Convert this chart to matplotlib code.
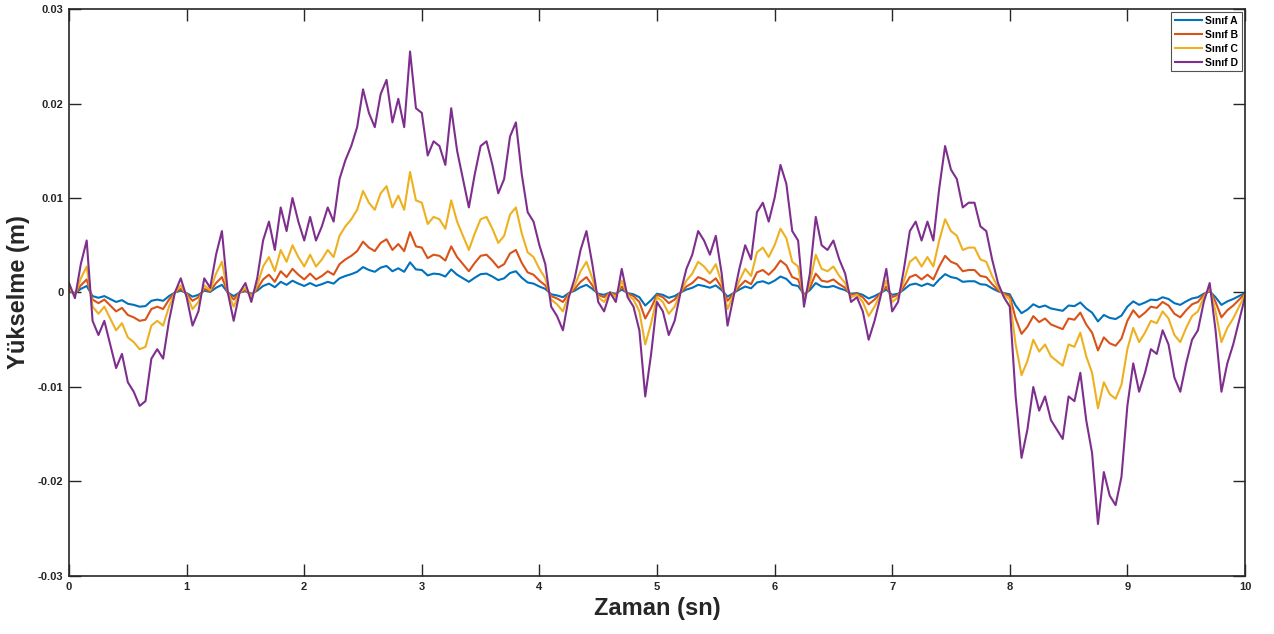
import numpy as np
import matplotlib.pyplot as plt

plt.rcParams['font.family'] = ['Liberation Sans', 'DejaVu Sans']
plt.rcParams['font.weight'] = 'bold'

# zaman ekseni: 0 - 10 sn, 0.05 sn aralik
zaman = np.linspace(0, 10, 201)

# yol profilleri (mm)
sinif_d = [
    1.0, -0.6, 3.0, 5.5, -3.0, -4.5, -3.0, -5.5, -8.0, -6.5,
    -9.5, -10.5, -12.0, -11.5, -7.0, -6.0, -7.0, -3.0, 0.0, 1.5,
    -0.5, -3.5, -2.0, 1.5, 0.5, 4.0, 6.5, 0.0, -3.0, 0.0,
    1.0, -1.0, 1.5, 5.5, 7.5, 4.5, 9.0, 6.5, 10.0, 7.5,
    5.5, 8.0, 5.5, 7.0, 9.0, 7.5, 12.0, 14.0, 15.5, 17.5,
    21.5, 19.0, 17.5, 21.0, 22.5, 18.0, 20.5, 17.5, 25.5, 19.5,
    19.0, 14.5, 16.0, 15.5, 13.5, 19.5, 15.0, 12.0, 9.0, 12.5,
    15.5, 16.0, 13.5, 10.5, 12.0, 16.5, 18.0, 12.5, 8.5, 7.5,
    5.0, 3.0, -1.5, -2.5, -4.0, -0.5, 1.5, 4.5, 6.5, 3.0,
    -1.0, -2.0, 0.0, -1.0, 2.5, -0.5, -1.5, -4.0, -11.0, -6.5,
    -1.0, -2.0, -4.5, -3.0, 0.0, 2.5, 4.0, 6.5, 5.5, 4.0,
    6.0, 2.0, -3.5, -0.5, 2.5, 5.0, 3.5, 8.5, 9.5, 7.5,
    10.0, 13.5, 11.5, 6.5, 5.5, -1.5, 2.0, 8.0, 5.0, 4.5,
    5.5, 3.5, 2.0, -1.0, -0.5, -2.0, -5.0, -3.0, -0.5, 2.5,
    -2.0, -1.0, 2.5, 6.5, 7.5, 5.5, 7.5, 5.5, 11.0, 15.5,
    13.0, 12.0, 9.0, 9.5, 9.5, 7.0, 6.5, 3.5, 1.0, -0.5,
    -1.5, -11.0, -17.5, -14.5, -10.0, -12.5, -11.0, -13.5, -14.5, -15.5,
    -11.0, -11.5, -8.5, -13.5, -17.0, -24.5, -19.0, -21.5, -22.5, -19.5,
    -12.0, -7.5, -10.5, -8.5, -6.0, -6.5, -4.0, -5.5, -9.0, -10.5,
    -7.5, -5.0, -4.0, -1.0, 1.0, -4.0, -10.5, -7.5, -5.5, -3.0,
    -0.5]

sinif_c = [
    0.5, -0.3, 1.5, 2.75, -1.5, -2.25, -1.5, -2.75, -4.0, -3.25,
    -4.75, -5.25, -6.0, -5.75, -3.5, -3.0, -3.5, -1.5, 0.0, 0.75,
    -0.25, -1.75, -1.0, 0.75, 0.25, 2.0, 3.25, 0.0, -1.5, 0.0,
    0.5, -0.5, 0.75, 2.75, 3.75, 2.25, 4.5, 3.25, 5.0, 3.75,
    2.75, 4.0, 2.75, 3.5, 4.5, 3.75, 6.0, 7.0, 7.75, 8.75,
    10.75, 9.5, 8.75, 10.5, 11.25, 9.0, 10.25, 8.75, 12.75, 9.75,
    9.5, 7.25, 8.0, 7.75, 6.75, 9.75, 7.5, 6.0, 4.5, 6.25,
    7.75, 8.0, 6.75, 5.25, 6.0, 8.25, 9.0, 6.25, 4.25, 3.75,
    2.5, 1.5, -0.75, -1.25, -2.0, -0.25, 0.75, 2.25, 3.25, 1.5,
    -0.5, -1.0, 0.0, -0.5, 1.25, -0.25, -0.75, -2.0, -5.5, -3.25,
    -0.5, -1.0, -2.25, -1.5, 0.0, 1.25, 2.0, 3.25, 2.75, 2.0,
    3.0, 1.0, -1.75, -0.25, 1.25, 2.5, 1.75, 4.25, 4.75, 3.75,
    5.0, 6.75, 5.75, 3.25, 2.75, -0.75, 1.0, 4.0, 2.5, 2.25,
    2.75, 1.75, 1.0, -0.5, -0.25, -1.0, -2.5, -1.5, -0.25, 1.25,
    -1.0, -0.5, 1.25, 3.25, 3.75, 2.75, 3.75, 2.75, 5.5, 7.75,
    6.5, 6.0, 4.5, 4.75, 4.75, 3.5, 3.25, 1.75, 0.5, -0.25,
    -0.75, -5.5, -8.75, -7.25, -5.0, -6.25, -5.5, -6.75, -7.25, -7.75,
    -5.5, -5.75, -4.25, -6.75, -8.5, -12.25, -9.5, -10.75, -11.25, -9.75,
    -6.0, -3.75, -5.25, -4.25, -3.0, -3.25, -2.0, -2.75, -4.5, -5.25,
    -3.75, -2.5, -2.0, -0.5, 0.5, -2.0, -5.25, -3.75, -2.75, -1.5,
    -0.25]

sinif_b = [
    0.25, -0.15, 0.75, 1.38, -0.75, -1.13, -0.75, -1.38, -2.0, -1.63,
    -2.38, -2.63, -3.0, -2.88, -1.75, -1.5, -1.75, -0.75, 0.0, 0.38,
    -0.13, -0.88, -0.5, 0.38, 0.13, 1.0, 1.63, 0.0, -0.75, 0.0,
    0.25, -0.25, 0.38, 1.38, 1.88, 1.13, 2.25, 1.63, 2.5, 1.88,
    1.38, 2.0, 1.38, 1.75, 2.25, 1.88, 3.0, 3.5, 3.88, 4.38,
    5.38, 4.75, 4.38, 5.25, 5.63, 4.5, 5.13, 4.38, 6.38, 4.88,
    4.75, 3.63, 4.0, 3.88, 3.38, 4.88, 3.75, 3.0, 2.25, 3.13,
    3.88, 4.0, 3.38, 2.63, 3.0, 4.13, 4.5, 3.13, 2.13, 1.88,
    1.25, 0.75, -0.38, -0.63, -1.0, -0.13, 0.38, 1.13, 1.63, 0.75,
    -0.25, -0.5, 0.0, -0.25, 0.63, -0.13, -0.38, -1.0, -2.75, -1.63,
    -0.25, -0.5, -1.13, -0.75, 0.0, 0.63, 1.0, 1.63, 1.38, 1.0,
    1.5, 0.5, -0.88, -0.13, 0.63, 1.25, 0.88, 2.13, 2.38, 1.88,
    2.5, 3.38, 2.88, 1.63, 1.38, -0.38, 0.5, 2.0, 1.25, 1.13,
    1.38, 0.88, 0.5, -0.25, -0.13, -0.5, -1.25, -0.75, -0.13, 0.63,
    -0.5, -0.25, 0.63, 1.63, 1.88, 1.38, 1.88, 1.38, 2.75, 3.88,
    3.25, 3.0, 2.25, 2.38, 2.38, 1.75, 1.63, 0.88, 0.25, -0.13,
    -0.38, -2.75, -4.38, -3.63, -2.5, -3.13, -2.75, -3.38, -3.63, -3.88,
    -2.75, -2.88, -2.13, -3.38, -4.25, -6.13, -4.75, -5.38, -5.63, -4.88,
    -3.0, -1.88, -2.63, -2.13, -1.5, -1.63, -1.0, -1.38, -2.25, -2.63,
    -1.88, -1.25, -1.0, -0.25, 0.25, -1.0, -2.63, -1.88, -1.38, -0.75,
    -0.13]

sinif_a = [
    0.13, -0.08, 0.38, 0.69, -0.38, -0.56, -0.38, -0.69, -1.0, -0.81,
    -1.19, -1.31, -1.5, -1.44, -0.88, -0.75, -0.88, -0.38, 0.0, 0.19,
    -0.06, -0.44, -0.25, 0.19, 0.06, 0.5, 0.81, 0.0, -0.38, 0.0,
    0.13, -0.13, 0.19, 0.69, 0.94, 0.56, 1.13, 0.81, 1.25, 0.94,
    0.69, 1.0, 0.69, 0.88, 1.13, 0.94, 1.5, 1.75, 1.94, 2.19,
    2.69, 2.38, 2.19, 2.63, 2.81, 2.25, 2.56, 2.19, 3.19, 2.44,
    2.38, 1.81, 2.0, 1.94, 1.69, 2.44, 1.88, 1.5, 1.13, 1.56,
    1.94, 2.0, 1.69, 1.31, 1.5, 2.06, 2.25, 1.56, 1.06, 0.94,
    0.63, 0.38, -0.19, -0.31, -0.5, -0.06, 0.19, 0.56, 0.81, 0.38,
    -0.13, -0.25, 0.0, -0.13, 0.31, -0.06, -0.19, -0.5, -1.38, -0.81,
    -0.13, -0.25, -0.56, -0.38, 0.0, 0.31, 0.5, 0.81, 0.69, 0.5,
    0.75, 0.25, -0.44, -0.06, 0.31, 0.63, 0.44, 1.06, 1.19, 0.94,
    1.25, 1.69, 1.44, 0.81, 0.69, -0.19, 0.25, 1.0, 0.63, 0.56,
    0.69, 0.44, 0.25, -0.13, -0.06, -0.25, -0.63, -0.38, -0.06, 0.31,
    -0.25, -0.13, 0.31, 0.81, 0.94, 0.69, 0.94, 0.69, 1.38, 1.94,
    1.63, 1.5, 1.13, 1.19, 1.19, 0.88, 0.81, 0.44, 0.13, -0.06,
    -0.19, -1.38, -2.19, -1.81, -1.25, -1.56, -1.38, -1.69, -1.81, -1.94,
    -1.38, -1.44, -1.06, -1.69, -2.13, -3.06, -2.38, -2.69, -2.81, -2.44,
    -1.5, -0.94, -1.31, -1.06, -0.75, -0.81, -0.5, -0.69, -1.13, -1.31,
    -0.94, -0.63, -0.5, -0.13, 0.13, -0.5, -1.31, -0.94, -0.69, -0.38,
    -0.06]

x_ticks = [0, 1, 2, 3, 4, 5, 6, 7, 8, 9, 10]
y_ticks = [-0.03, -0.02, -0.01, 0, 0.01, 0.02, 0.03]
y_labels = ['-0.03', '-0.02', '-0.01', '0', '0.01', '0.02', '0.03']

seriler = [('Sınıf A', sinif_a, '#0072BD'),
           ('Sınıf B', sinif_b, '#D95319'),
           ('Sınıf C', sinif_c, '#EDB120'),
           ('Sınıf D', sinif_d, '#7E2F8E')]

fig = plt.figure(figsize=(12.74, 6.34), dpi=100)
ax = fig.add_axes([0.0542, 0.0915, 0.923, 0.8943])

for ad, deger, renk in seriler:
    ax.plot(zaman, np.array(deger) / 1000.0, color=renk, lw=1.5, label=ad)

ax.set_xlim(0, 10)
ax.set_ylim(-0.03, 0.03)
ax.set_xticks(x_ticks)
ax.set_xticklabels([str(v) for v in x_ticks])
ax.set_yticks(y_ticks)
ax.set_yticklabels(y_labels)
ax.tick_params(direction='in', length=8.5, width=1.0, top=True, right=True,
               labelsize=8, colors='#262626', pad=4)
for s in ax.spines.values():
    s.set_linewidth(1.2)
    s.set_color('#262626')

ax.set_xlabel('Zaman (sn)', fontsize=17, fontweight='bold', color='#262626', labelpad=4)
ax.set_ylabel('Yükselme (m)', fontsize=17, fontweight='bold', color='#262626', labelpad=6)

leg = ax.legend(loc='upper right', fontsize=7.5, frameon=True, fancybox=False,
                edgecolor='#262626', handlelength=2.6, borderpad=0.35,
                labelspacing=0.38, handletextpad=0.3, borderaxespad=0.3)
leg.get_frame().set_linewidth(0.8)
for t in leg.get_texts():
    t.set_fontweight('bold')

fig.savefig('out.png', dpi=100)
